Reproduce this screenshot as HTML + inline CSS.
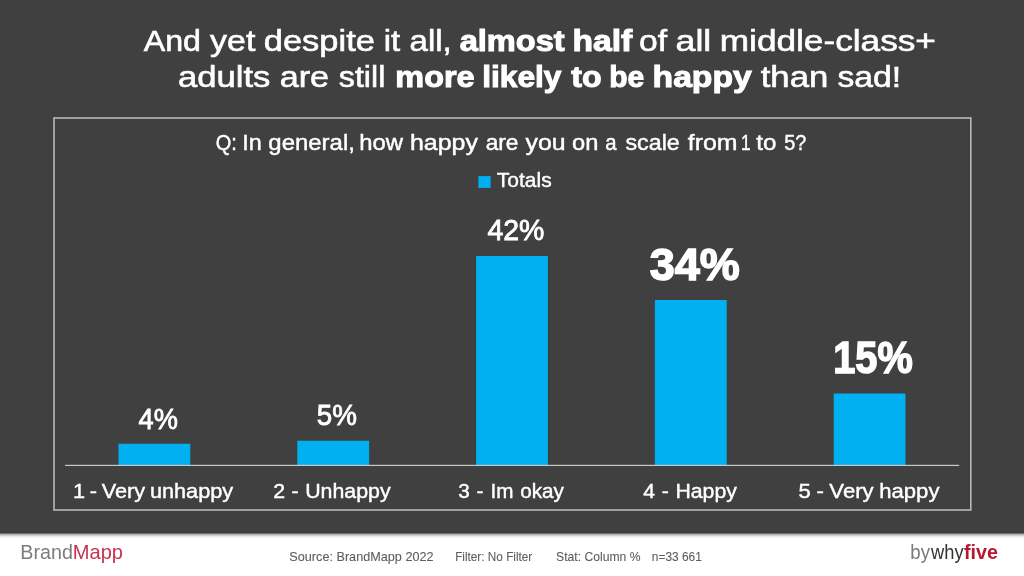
<!DOCTYPE html>
<html lang="en"><head><meta charset="utf-8"><title>How happy are you on a scale from 1 to 5?</title>
<style>
html,body{margin:0;padding:0}
body{width:1024px;height:576px;position:relative;overflow:hidden;background:#ffffff;font-family:"Liberation Sans",sans-serif}
.dark{position:absolute;left:0;top:0;width:1024px;height:533px;background:#404040}
.sh{position:absolute;left:0;width:1024px;height:1px}
svg{position:absolute;left:0;top:0;font-family:"Liberation Sans",sans-serif}
</style></head><body>
<div class="dark"></div>
<div class="sh" style="top:532px;background:#3c3c3c"></div><div class="sh" style="top:533px;background:#757575"></div><div class="sh" style="top:534px;background:#b0b0b0"></div><div class="sh" style="top:535px;background:#d0d0d0"></div><div class="sh" style="top:536px;background:#e8e8e8"></div><div class="sh" style="top:537px;background:#f7f7f7"></div>
<svg width="1024" height="576" viewBox="0 0 1024 576">
<rect x="54" y="118" width="916.8" height="392" fill="none" stroke="#b8b8b8" stroke-width="1.6"/>
<rect x="118.50" y="443.75" width="71.8" height="21.65" fill="#00b0f0"/>
<rect x="297.30" y="440.75" width="71.8" height="24.65" fill="#00b0f0"/>
<rect x="476.10" y="256.0" width="71.8" height="209.40" fill="#00b0f0"/>
<rect x="654.90" y="300.0" width="71.8" height="165.40" fill="#00b0f0"/>
<rect x="833.70" y="393.5" width="71.8" height="71.90" fill="#00b0f0"/>
<rect x="478.4" y="176.1" width="12.2" height="11.8" fill="#00b0f0"/>
<rect x="65" y="464.8" width="894.2" height="1.2" fill="#c8c8c8"/>
<text transform="translate(143.72 50.80) scale(1.0870 1)" font-size="29.6" font-weight="400" fill="#ffffff" stroke="#ffffff" stroke-width="0.59">And</text>
<text transform="translate(210.07 50.80) scale(1.1464 1)" font-size="29.6" font-weight="400" fill="#ffffff" stroke="#ffffff" stroke-width="0.59">yet</text>
<text transform="translate(263.76 50.80) scale(1.1647 1)" font-size="29.6" font-weight="400" fill="#ffffff" stroke="#ffffff" stroke-width="0.59">despite</text>
<text transform="translate(383.72 50.80) scale(1.1087 1)" font-size="29.6" font-weight="400" fill="#ffffff" stroke="#ffffff" stroke-width="0.59">it</text>
<text transform="translate(409.51 50.80) scale(1.1168 1)" font-size="29.6" font-weight="400" fill="#ffffff" stroke="#ffffff" stroke-width="0.59">all,</text>
<text transform="translate(459.66 50.80) scale(1.1233 1)" font-size="29.008" font-weight="700" fill="#ffffff" stroke="#ffffff" stroke-width="1.02">almost</text>
<text transform="translate(572.44 50.80) scale(1.1599 1)" font-size="29.008" font-weight="700" fill="#ffffff" stroke="#ffffff" stroke-width="1.02">half</text>
<text transform="translate(638.94 50.80) scale(1.1367 1)" font-size="29.6" font-weight="400" fill="#ffffff" stroke="#ffffff" stroke-width="0.59">of</text>
<text transform="translate(675.52 50.80) scale(1.2078 1)" font-size="29.6" font-weight="400" fill="#ffffff" stroke="#ffffff" stroke-width="0.59">all</text>
<text transform="translate(719.73 50.80) scale(1.1900 1)" font-size="29.6" font-weight="400" fill="#ffffff" stroke="#ffffff" stroke-width="0.59">middle-class+</text>
<text transform="translate(177.95 86.50) scale(1.1708 1)" font-size="29.6" font-weight="400" fill="#ffffff" stroke="#ffffff" stroke-width="0.59">adults</text>
<text transform="translate(279.67 86.50) scale(1.1558 1)" font-size="29.6" font-weight="400" fill="#ffffff" stroke="#ffffff" stroke-width="0.59">are</text>
<text transform="translate(338.82 86.50) scale(1.0870 1)" font-size="29.6" font-weight="400" fill="#ffffff" stroke="#ffffff" stroke-width="0.59">still</text>
<text transform="translate(395.34 86.50) scale(1.1174 1)" font-size="29.008" font-weight="700" fill="#ffffff" stroke="#ffffff" stroke-width="1.02">more</text>
<text transform="translate(482.18 86.50) scale(1.0916 1)" font-size="29.008" font-weight="700" fill="#ffffff" stroke="#ffffff" stroke-width="1.02">likely</text>
<text transform="translate(571.36 86.50) scale(1.1096 1)" font-size="29.008" font-weight="700" fill="#ffffff" stroke="#ffffff" stroke-width="1.02">to</text>
<text transform="translate(609.23 86.50) scale(1.0325 1)" font-size="29.008" font-weight="700" fill="#ffffff" stroke="#ffffff" stroke-width="1.02">be</text>
<text transform="translate(652.54 86.50) scale(1.1622 1)" font-size="29.008" font-weight="700" fill="#ffffff" stroke="#ffffff" stroke-width="1.02">happy</text>
<text transform="translate(760.72 86.50) scale(1.1730 1)" font-size="29.6" font-weight="400" fill="#ffffff" stroke="#ffffff" stroke-width="0.59">than</text>
<text transform="translate(837.52 86.50) scale(1.1385 1)" font-size="29.6" font-weight="400" fill="#ffffff" stroke="#ffffff" stroke-width="0.59">sad!</text>
<text transform="translate(215.81 150.40) scale(0.9269 1)" font-size="21.6" font-weight="400" fill="#ffffff" stroke="#ffffff" stroke-width="0.43">Q:</text>
<text transform="translate(242.37 150.40) scale(1.0818 1)" font-size="21.6" font-weight="400" fill="#ffffff" stroke="#ffffff" stroke-width="0.43">In</text>
<text transform="translate(268.34 150.40) scale(1.1089 1)" font-size="21.6" font-weight="400" fill="#ffffff" stroke="#ffffff" stroke-width="0.43">general,</text>
<text transform="translate(359.33 150.40) scale(1.1053 1)" font-size="21.6" font-weight="400" fill="#ffffff" stroke="#ffffff" stroke-width="0.43">how</text>
<text transform="translate(409.98 150.40) scale(1.1549 1)" font-size="21.6" font-weight="400" fill="#ffffff" stroke="#ffffff" stroke-width="0.43">happy</text>
<text transform="translate(485.64 150.40) scale(1.0537 1)" font-size="21.6" font-weight="400" fill="#ffffff" stroke="#ffffff" stroke-width="0.43">are</text>
<text transform="translate(525.54 150.40) scale(1.1515 1)" font-size="21.6" font-weight="400" fill="#ffffff" stroke="#ffffff" stroke-width="0.43">you</text>
<text transform="translate(572.04 150.40) scale(1.0964 1)" font-size="21.6" font-weight="400" fill="#ffffff" stroke="#ffffff" stroke-width="0.43">on</text>
<text transform="translate(605.24 150.40) scale(0.9444 1)" font-size="21.6" font-weight="400" fill="#ffffff" stroke="#ffffff" stroke-width="0.43">a</text>
<text transform="translate(625.49 150.40) scale(1.0769 1)" font-size="21.6" font-weight="400" fill="#ffffff" stroke="#ffffff" stroke-width="0.43">scale</text>
<text transform="translate(687.74 150.40) scale(1.1523 1)" font-size="21.6" font-weight="400" fill="#ffffff" stroke="#ffffff" stroke-width="0.43">from</text>
<text transform="translate(741.10 150.40) scale(0.8000 1)" font-size="21.6" font-weight="400" fill="#ffffff" stroke="#ffffff" stroke-width="0.43">1</text>
<text transform="translate(756.24 150.40) scale(1.1182 1)" font-size="21.6" font-weight="400" fill="#ffffff" stroke="#ffffff" stroke-width="0.43">to</text>
<text transform="translate(784.24 150.40) scale(0.9216 1)" font-size="21.6" font-weight="400" fill="#ffffff" stroke="#ffffff" stroke-width="0.43">5?</text>
<text transform="translate(496.82 186.90) scale(1.0500 1)" font-size="20" font-weight="400" fill="#ffffff" stroke="#ffffff" stroke-width="0.4">Totals</text>
<text transform="translate(138.56 428.50) scale(0.9073 1)" font-size="30" font-weight="400" fill="#ffffff" stroke="#ffffff" stroke-width="0.84">4%</text>
<text transform="translate(316.79 425.40) scale(0.9254 1)" font-size="30" font-weight="400" fill="#ffffff" stroke="#ffffff" stroke-width="0.84">5%</text>
<text transform="translate(487.46 240.30) scale(0.9487 1)" font-size="30" font-weight="400" fill="#ffffff" stroke="#ffffff" stroke-width="0.84">42%</text>
<text transform="translate(649.80 279.80) scale(1.0345 1)" font-size="43.5" font-weight="700" fill="#ffffff" stroke="#ffffff" stroke-width="1.52">34%</text>
<text transform="translate(833.26 373.40) scale(0.9134 1)" font-size="43.5" font-weight="700" fill="#ffffff" stroke="#ffffff" stroke-width="1.52">15%</text>
<text transform="translate(72.91 498.30) scale(1.0694 1)" font-size="20.3" font-weight="400" fill="#ffffff" stroke="#ffffff" stroke-width="0.41" word-spacing="-1.18">1 - Very unhappy</text>
<text transform="translate(273.17 498.30) scale(1.0525 1)" font-size="20.3" font-weight="400" fill="#ffffff" stroke="#ffffff" stroke-width="0.41" word-spacing="0.55">2 - Unhappy</text>
<text transform="translate(458.23 498.30) scale(1.0194 1)" font-size="20.3" font-weight="400" fill="#ffffff" stroke="#ffffff" stroke-width="0.41" word-spacing="1.12">3 - Im okay</text>
<text transform="translate(643.23 498.30) scale(1.0481 1)" font-size="20.3" font-weight="400" fill="#ffffff" stroke="#ffffff" stroke-width="0.41" word-spacing="0.71">4 - Happy</text>
<text transform="translate(798.48 498.30) scale(1.0895 1)" font-size="20.3" font-weight="400" fill="#ffffff" stroke="#ffffff" stroke-width="0.41" word-spacing="-0.49">5 - Very happy</text>
<text transform="translate(289.31 560.90) scale(0.9744 1)" font-size="13" font-weight="400" fill="#5e5e5e" stroke="#5e5e5e" stroke-width="0.1">Source: BrandMapp 2022</text>
<text transform="translate(455.15 560.90) scale(0.9056 1)" font-size="13" font-weight="400" fill="#5e5e5e" stroke="#5e5e5e" stroke-width="0.1">Filter: No Filter</text>
<text transform="translate(556.05 560.90) scale(0.9354 1)" font-size="13" font-weight="400" fill="#5e5e5e" stroke="#5e5e5e" stroke-width="0.1">Stat: Column %</text>
<text transform="translate(651.80 560.90) scale(0.9179 1)" font-size="13" font-weight="400" fill="#5e5e5e" stroke="#5e5e5e" stroke-width="0.1">n=33 661</text>
<text transform="translate(20.30 558.80) scale(1.0003 1)" font-size="19.7" font-weight="400" fill="#7b7c7f">Brand</text>
<text transform="translate(72.78 558.80) scale(1.0207 1)" font-size="19.7" font-weight="400" fill="#c9324e">Mapp</text>
<text transform="translate(910.37 558.70) scale(0.9293 1)" font-size="20" font-weight="400" fill="#7a7a7a">by</text>
<text transform="translate(931.02 558.70) scale(0.9161 1)" font-size="20" font-weight="400" fill="#333333">why</text>
<text transform="translate(964.00 558.70) scale(0.9843 1)" font-size="20" font-weight="700" fill="#b5182d">five</text>
</svg>
</body></html>
